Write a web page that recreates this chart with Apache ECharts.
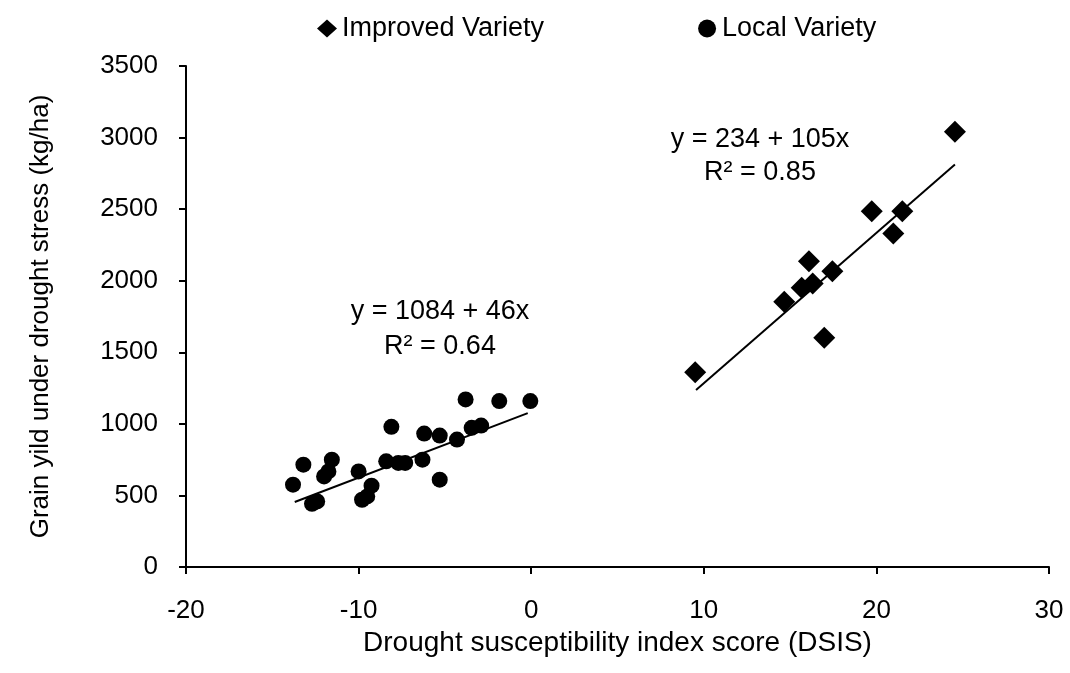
<!DOCTYPE html>
<html>
<head>
<meta charset="utf-8">
<script src="https://cdn.jsdelivr.net/npm/echarts@6/dist/echarts.min.js"></script>
<style>
  html, body { margin: 0; padding: 0; background: #fff; }
  #chart { width: 1070px; height: 673px; }
</style>
</head>
<body>
<div id="chart"></div>
<script>
// DSIS score vs grain yield under drought stress
const improvedVariety = [
  [9.5, 1360], [14.66, 1853], [15.67, 1950], [16.31, 1980], [16.09, 2136],
  [17.45, 2066], [16.98, 1602], [19.73, 2485], [21.5, 2485], [20.98, 2329],
  [24.55, 3040]
]
const localVariety = [
  [-13.8, 575], [-13.2, 715], [-12.7, 441], [-12.4, 458], [-12.0, 633],
  [-11.75, 668], [-11.55, 750], [-10.0, 668], [-9.8, 470], [-9.5, 493],
  [-9.25, 568], [-8.4, 738], [-8.1, 979], [-7.7, 727], [-7.3, 727],
  [-6.3, 750], [-6.2, 932], [-5.3, 918], [-5.3, 610], [-4.3, 890],
  [-3.8, 1171], [-3.45, 972], [-2.9, 988], [-1.85, 1159], [-0.05, 1159]
]
// regression: intercept, slope, x range of the drawn line
const improvedFit = [234, 105]
const improvedFitRange = [9.55, 24.55]
const localFit = [1084, 46]
const localFitRange = [-13.7, -0.2]

const fitLine = (fit, range) => range.map(x => [x, fit[0] + fit[1] * x])

const font = 'Liberation Sans, Arial, Helvetica, sans-serif'

const myChart = echarts.init(document.getElementById('chart'))

const note = (text, x, y) => ({
  type: 'text',
  x: x,
  y: y,
  style: { text: text, fontSize: 27, fill: '#000', fontFamily: font, align: 'center', verticalAlign: 'middle' }
})

const option = {
  backgroundColor: '#fff',
  animation: false,
  textStyle: { fontFamily: font, color: '#000' },
  legend: {
    data: [
      { name: 'Improved Variety', icon: 'diamond' },
      { name: 'Local Variety', icon: 'circle' }
    ],
    left: 312,
    top: 10,
    itemGap: 154,
    itemWidth: 20,
    itemHeight: 18,
    textStyle: { fontSize: 27, color: '#000', fontFamily: font }
  },
  grid: { left: 186, right: 21, top: 66, bottom: 106 },
  xAxis: {
    type: 'value',
    min: -20,
    max: 30,
    interval: 10,
    name: 'Drought susceptibility index score (DSIS)',
    nameLocation: 'middle',
    nameGap: 47,
    nameTextStyle: { fontSize: 28, color: '#000', fontFamily: font },
    axisLine: { onZero: false, lineStyle: { color: '#000', width: 2 } },
    axisTick: { length: 7, lineStyle: { color: '#000', width: 2 } },
    axisLabel: { fontSize: 26, color: '#000', margin: 31, fontFamily: font },
    splitLine: { show: false }
  },
  yAxis: {
    type: 'value',
    min: 0,
    max: 3500,
    interval: 500,
    name: 'Grain yild under drought stress (kg/ha)',
    nameLocation: 'middle',
    nameGap: 132,
    nameTextStyle: { fontSize: 26, color: '#000', fontFamily: font },
    axisLine: { show: true, onZero: false, lineStyle: { color: '#000', width: 2 } },
    axisTick: { show: true, length: 7, lineStyle: { color: '#000', width: 2 } },
    axisLabel: { fontSize: 26, color: '#000', margin: 28, fontFamily: font, formatter: v => String(v) },
    splitLine: { show: false }
  },
  series: [
    {
      name: 'Improved Variety',
      type: 'scatter',
      symbol: 'diamond',
      symbolSize: 22,
      itemStyle: { color: '#000', opacity: 1 },
      data: improvedVariety,
      z: 3
    },
    {
      name: 'Local Variety',
      type: 'scatter',
      symbol: 'circle',
      symbolSize: 16,
      itemStyle: { color: '#000', opacity: 1 },
      data: localVariety,
      z: 3
    },
    {
      name: 'Improved fit',
      type: 'line',
      data: fitLine(improvedFit, improvedFitRange),
      symbol: 'none',
      lineStyle: { color: '#000', width: 2 },
      silent: true
    },
    {
      name: 'Local fit',
      type: 'line',
      data: fitLine(localFit, localFitRange),
      symbol: 'none',
      lineStyle: { color: '#000', width: 2 },
      silent: true
    }
  ],
  graphic: [
    note('y = 234 + 105x', 760, 140),
    note('R\u00b2 = 0.85', 760, 173),
    note('y = 1084 + 46x', 440, 312),
    note('R\u00b2 = 0.64', 440, 347)
  ]
}

myChart.setOption(option)
</script>
</body>
</html>
